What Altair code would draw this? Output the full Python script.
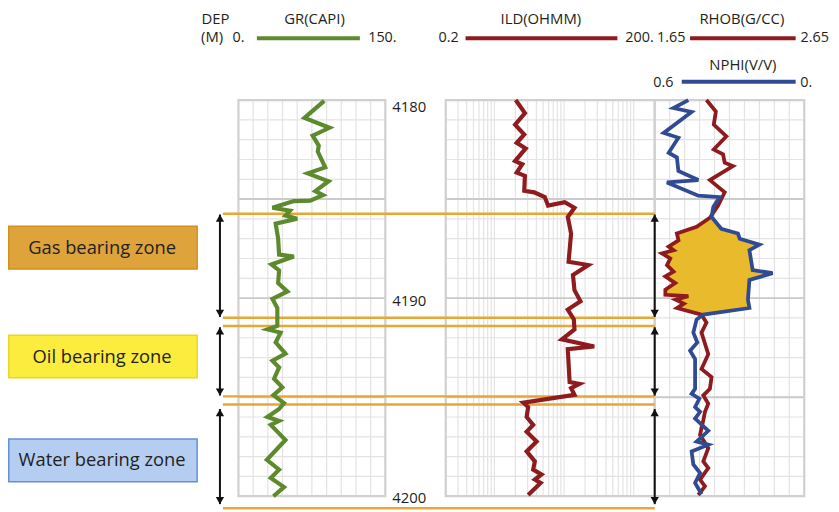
import altair as alt
import pandas as pd

# ---------------- data ----------------
gr_depth = [4180.04, 4180.9, 4181.4, 4181.8, 4182.3, 4182.6, 4183.4, 4183.7, 4184.1, 4184.6,
            4184.8, 4185.08, 4185.1, 4185.44, 4185.58, 4185.83, 4185.99, 4186.24, 4186.99, 4187.8,
            4187.9, 4188.3, 4188.6, 4189.24, 4189.66, 4190.04, 4190.5, 4191.4, 4191.58, 4191.74,
            4192.24, 4192.8, 4193.16, 4193.5, 4194.07, 4194.5, 4194.9, 4195.3, 4195.6, 4196.0,
            4196.2, 4196.4, 4196.74, 4197.16, 4198.16, 4198.66, 4199.08, 4199.54, 4200.0]
gr_value = [87.6, 67.4, 93, 75.8, 82, 81, 88.6, 70.8, 92, 78.5,
            86.3, 73.4, 56.6, 34.7, 52.6, 48, 60, 38, 40.5, 41.5,
            56.6, 33.7, 41.5, 40.5, 50, 34.7, 39.7, 39.7, 29.6, 43,
            38, 48, 34.7, 41.5, 36.4, 44.8, 35.7, 46.5, 41.5, 29.6,
            41.5, 33, 39.7, 48, 29, 41.5, 33, 46.5, 35.7]

ild_depth = [4180.0, 4180.66, 4181.24, 4181.74, 4182.16, 4182.44, 4183.08, 4183.24, 4183.66, 4183.83,
             4184.58, 4184.66, 4184.9, 4185.33, 4185.16, 4185.44, 4185.9, 4186.74, 4188.16, 4188.33,
             4188.83, 4189.6, 4190.16, 4190.58, 4191.08, 4191.58, 4192.08, 4192.44, 4192.58, 4194.24,
             4194.33, 4194.54, 4194.88, 4195.28, 4195.5, 4196.0, 4196.4, 4196.74, 4197.24, 4197.74,
             4198.24, 4198.66, 4198.9, 4199.16, 4199.33, 4199.94]
ild_value = [2.02, 2.74, 1.98, 2.68, 2.09, 2.81, 1.98, 2.51, 2.09, 2.74,
             2.68, 3.72, 5.28, 5.89, 10.2, 14.1, 11.3, 12.6, 11.6, 22.3,
             13.4, 14.1, 17.2, 11.3, 13.8, 14.1, 9.3, 27.1, 11.3, 12.0,
             16.6, 12.6, 14.1, 2.6, 3.05, 2.9, 3.6, 2.9, 4.03, 2.9,
             3.8, 3.6, 4.74, 3.8, 4.6, 3.05]

rhob_depth = [4180.0, 4180.58, 4181.24, 4181.83, 4182.5, 4182.74, 4183.16, 4183.33, 4184.04, 4184.66,
              4185.16, 4185.33, 4185.94, 4186.4, 4186.74, 4187.08, 4187.4, 4187.58, 4187.74, 4188.0,
              4188.33, 4188.66, 4188.9, 4189.24, 4189.58, 4189.83, 4189.9, 4190.08, 4190.28, 4190.5,
              4190.83, 4191.24, 4191.74, 4192.83, 4193.58, 4193.99, 4194.58, 4194.91, 4195.33, 4195.74,
              4196.16, 4196.9, 4197.58, 4198.24, 4198.58, 4199.16, 4199.5, 4199.94]
rhob_value = [1.996, 2.059, 2.045, 2.129, 2.045, 2.107, 2.118, 2.173, 2.019, 2.118,
              2.085, 2.074, 2.019, 1.93, 1.798, 1.809, 1.743, 1.776, 1.698, 1.754,
              1.732, 1.776, 1.721, 1.787, 1.721, 1.721, 1.875, 1.79, 1.845, 1.8,
              1.963, 1.996, 1.963, 2.008, 1.963, 2.03, 2.019, 1.975, 2.008, 1.986,
              1.975, 1.953, 2.008, 1.975, 2.008, 1.953, 1.986, 1.941]

nphi_depth = [4180.0, 4180.4, 4180.6, 4181.66, 4181.9, 4182.66, 4182.9, 4183.58, 4184.04, 4184.16,
              4184.83, 4184.9, 4185.4, 4185.9, 4186.5, 4186.74, 4187.0, 4187.3, 4187.58, 4188.58,
              4188.74, 4189.08, 4190.08, 4190.5, 4190.83, 4191.08, 4191.74, 4192.24, 4192.66, 4193.08,
              4194.58, 4194.83, 4195.08, 4195.5, 4195.74, 4196.08, 4196.7, 4197.24, 4197.4, 4197.74,
              4198.4, 4198.83, 4199.33, 4199.9]
nphi_value = [0.465, 0.525, 0.452, 0.564, 0.505, 0.544, 0.511, 0.505, 0.425, 0.551,
              0.425, 0.339, 0.365, 0.372, 0.333, 0.266, 0.259, 0.18, 0.22, 0.207,
              0.127, 0.22, 0.226, 0.22, 0.405, 0.432, 0.445, 0.429, 0.458, 0.438,
              0.438, 0.452, 0.421, 0.438, 0.418, 0.438, 0.385, 0.432, 0.385, 0.452,
              0.445, 0.418, 0.438, 0.412]

# gas crossover fill: both curves read at the same depths
fill_depth = [4185.9, 4186.4, 4186.5, 4186.74, 4187.0, 4187.08, 4187.3, 4187.4, 4187.58, 4187.74,
              4188.0, 4188.33, 4188.58, 4188.66, 4188.74, 4188.9, 4189.08, 4189.24, 4189.58, 4189.83,
              4189.9, 4190.08, 4190.28, 4190.5, 4190.83]
fill_rhob = [2.02, 1.93, 1.89, 1.798, 1.806, 1.809, 1.76, 1.743, 1.776, 1.698,
             1.754, 1.732, 1.765, 1.776, 1.76, 1.721, 1.75, 1.787, 1.721, 1.721,
             1.875, 1.79, 1.845, 1.8, 1.963]
fill_nphi = [0.374, 0.34, 0.333, 0.266, 0.259, 0.238, 0.18, 0.2, 0.22, 0.218,
             0.215, 0.21, 0.207, 0.167, 0.127, 0.175, 0.22, 0.221, 0.223, 0.224,
             0.224, 0.226, 0.224, 0.22, 0.41]

zone_names = ["Gas bearing zone", "Oil bearing zone", "Water bearing zone"]
zone_lines = [4185.74, 4190.99, 4191.41, 4194.96, 4195.375, 4200.61]
arrow_top = [4185.78, 4191.47, 4195.6]
arrow_base = [4190.95, 4194.92, 4200.4]
box_top = [4186.375, 4191.875, 4197.11]
box_base = [4188.525, 4194.025, 4199.275]
box_fill = ["#dfa33c", "#fbec3d", "#b5cdf0"]
box_line = ["#d2901f", "#ecd52a", "#6690d2"]

depth_labels = [4180, 4190, 4200]
depth_grid = [4180, 4181, 4182, 4183, 4184, 4185, 4186, 4187, 4188, 4189, 4190,
              4191, 4192, 4193, 4194, 4195, 4196, 4197, 4198, 4199, 4200]
depth_major = [4185, 4190, 4195]
gr_grid = [0, 15, 30, 45, 60, 75, 90, 105, 120, 135, 150]
ild_grid = [0.2, 0.3, 0.4, 0.5, 0.6, 0.7, 0.8, 0.9, 1, 2, 3, 4, 5, 6, 7, 8, 9,
            10, 20, 30, 40, 50, 60, 70, 80, 90, 100, 200]
rhob_grid = [1.65, 1.75, 1.85, 1.95, 2.05, 2.15, 2.25, 2.35, 2.45, 2.55, 2.65]

# ---------------- styling ----------------
FONT = "Open Sans"
INK = "#231f20"
GREEN = "#5d8a2c"
RED = "#8e1b1d"
BLUE = "#2f4b93"
YELLOW = "#e9ba2b"
ORANGE = "#e6a734"
MINOR = "#e3e3e3"
MAJOR = "#cbcbcb"
BORDER = "#d0d0d0"

yscale = alt.Scale(domain=[4180, 4200], range=[90.5, 490.5], nice=False, zero=False)
gr_scale = alt.Scale(domain=[0, 150], range=[232.7, 381], nice=False, zero=False)
ild_scale = alt.Scale(type="log", domain=[0.2, 200], range=[442, 653], nice=False)
rhob_scale = alt.Scale(domain=[1.65, 2.65], range=[653, 804], nice=False, zero=False)
nphi_scale = alt.Scale(domain=[0, 0.6], range=[804, 653], nice=False, zero=False)

one = pd.DataFrame({"a": [0]})
layers = []


def Y(field):
    return alt.Y(field, scale=yscale, axis=None)


def track_grid(xscale, xmin, xmax, vlines):
    vdf = pd.DataFrame({"v": vlines})
    hdf = pd.DataFrame({"d": depth_grid})
    mdf = pd.DataFrame({"d": depth_major})
    out = []
    out.append(alt.Chart(vdf).mark_rule(color=MINOR, strokeWidth=1.2).encode(
        x=alt.X("v:Q", scale=xscale, axis=None),
        y=alt.Y(datum=4180, scale=yscale, axis=None), y2=alt.Y2(datum=4200)))
    out.append(alt.Chart(hdf).mark_rule(color=MINOR, strokeWidth=1.2).encode(
        y=Y("d:Q"), x=alt.X(datum=xmin, scale=xscale, axis=None), x2=alt.X2(datum=xmax)))
    out.append(alt.Chart(mdf).mark_rule(color=MAJOR, strokeWidth=2).encode(
        y=Y("d:Q"), x=alt.X(datum=xmin, scale=xscale, axis=None), x2=alt.X2(datum=xmax)))
    out.append(alt.Chart(one).mark_rect(fillOpacity=0, stroke=BORDER, strokeWidth=2.2).encode(
        x=alt.X(datum=xmin, scale=xscale, axis=None), x2=alt.X2(datum=xmax),
        y=alt.Y(datum=4180, scale=yscale, axis=None), y2=alt.Y2(datum=4200)))
    return out


layers += track_grid(gr_scale, 0, 150, gr_grid)
layers += track_grid(ild_scale, 0.2, 200, ild_grid)
layers += track_grid(rhob_scale, 1.65, 2.65, rhob_grid)

# orange zone boundaries
layers.append(alt.Chart(pd.DataFrame({"d": zone_lines})).mark_rule(
    color=ORANGE, strokeWidth=2.5).encode(y=Y("d:Q"), x=alt.value(217), x2=alt.value(653)))

# gas crossover fill
fill_df = pd.DataFrame({"depth": fill_depth, "rhob": fill_rhob, "nphi": fill_nphi})
layers.append(alt.Chart(fill_df).transform_calculate(
    neq="1.65 + (0.6 - datum.nphi) / 0.6").mark_area(
    color=YELLOW, orient="horizontal", opacity=1).encode(
    x=alt.X("rhob:Q", scale=rhob_scale, axis=None), x2="neq:Q", y=Y("depth:Q")))


def curve(depth, values, xscale, color, width):
    df = pd.DataFrame({"depth": depth, "v": values})
    df["i"] = list(range(len(df)))
    return alt.Chart(df).mark_line(color=color, strokeWidth=width, strokeJoin="miter").encode(
        x=alt.X("v:Q", scale=xscale, axis=None), y=Y("depth:Q"), order="i:Q")


layers.append(curve(gr_depth, gr_value, gr_scale, GREEN, 4.2))
layers.append(curve(ild_depth, ild_value, ild_scale, RED, 4.2))
layers.append(curve(rhob_depth, rhob_value, rhob_scale, RED, 3.8))
layers.append(curve(nphi_depth, nphi_value, nphi_scale, BLUE, 3.8))

# arrows
adf = pd.DataFrame({"zone": zone_names, "top": arrow_top, "base": arrow_base})
for xp in [214, 653]:
    layers.append(alt.Chart(adf).mark_rule(color="#111111", strokeWidth=2).encode(
        x=alt.value(xp), y=Y("top:Q"), y2="base:Q"))
    layers.append(alt.Chart(adf).mark_point(shape="triangle-up", filled=True, size=70,
                                            color="#111111", opacity=1, yOffset=3.6).encode(
        x=alt.value(xp), y=Y("top:Q")))
    layers.append(alt.Chart(adf).mark_point(shape="triangle-down", filled=True, size=70,
                                            color="#111111", opacity=1, yOffset=-3.6).encode(
        x=alt.value(xp), y=Y("base:Q")))

# zone boxes
bdf = pd.DataFrame({"zone": zone_names, "top": box_top, "base": box_base})
bdf["mid"] = (bdf["top"] + bdf["base"]) / 2
layers.append(alt.Chart(bdf).mark_rect(strokeWidth=1.5).encode(
    x=alt.value(0.75), x2=alt.value(191), y=Y("top:Q"), y2="base:Q",
    color=alt.Color("zone:N", scale=alt.Scale(domain=zone_names, range=box_fill), legend=None),
    stroke=alt.Stroke("zone:N", scale=alt.Scale(domain=zone_names, range=box_line), legend=None)))
layers.append(alt.Chart(bdf).mark_text(font=FONT, fontSize=18.5, color=INK, align="center",
                                       baseline="middle").encode(
    x=alt.value(95), y=Y("mid:Q"), text="zone:N"))

# depth labels
for lab, dy in zip(depth_labels, [7.5, 3.2, 2.3]):
    layers.append(alt.Chart(pd.DataFrame({"d": [lab], "t": [str(lab)]})).mark_text(
        font=FONT, fontSize=15, color=INK, align="left", baseline="middle", dx=7, dy=dy).encode(
        x=alt.X(datum=150, scale=gr_scale, axis=None), y=Y("d:Q"), text="t:N"))


# header
def txt(s, x, y, align="left", size=15):
    return alt.Chart(pd.DataFrame({"t": [s]})).mark_text(
        align=align, baseline="alphabetic", font=FONT, fontSize=size, color=INK).encode(
        x=alt.value(x), y=alt.value(y), text="t:N")


def hline(x1, x2, y, color):
    return alt.Chart(one).mark_rule(color=color, strokeWidth=4).encode(
        x=alt.value(x1), x2=alt.value(x2), y=alt.value(y))


ROW1 = 13.5
layers += [
    txt("DEP", 195.3, ROW1), txt("(M)", 195, 32),
    txt("GR(CAPI)", 309.5, ROW1, "center"), txt("0.", 238.7, 32, "right", 14.5),
    hline(251.3, 355.3, 28, GREEN), txt("150.", 363.7, 32, "left", 14.5),
    txt("ILD(OHMM)", 538, ROW1, "center"), txt("0.2", 455, 32, "right", 14.5),
    hline(462, 615.3, 28, RED), txt("200.", 652, 32, "right", 14.5),
    txt("RHOB(G/CC)", 741, ROW1, "center"), txt("1.65", 655.3, 32, "left", 14.5),
    hline(688.7, 795.3, 28, RED), txt("2.65", 800.3, 32, "left", 14.5),
    txt("NPHI(V/V)", 742, 60.3, "center"), txt("0.6", 672, 77, "right", 14.5),
    hline(680.3, 795.3, 72, BLUE), txt("0.", 800, 77, "left", 14.5),
]

chart = alt.layer(*layers).resolve_scale(x="independent").properties(
    width=831, height=504, padding=0, autosize="none", background="white"
).configure_view(stroke=None)

chart.save("out.html", embed_options={"renderer": "svg", "actions": False})
